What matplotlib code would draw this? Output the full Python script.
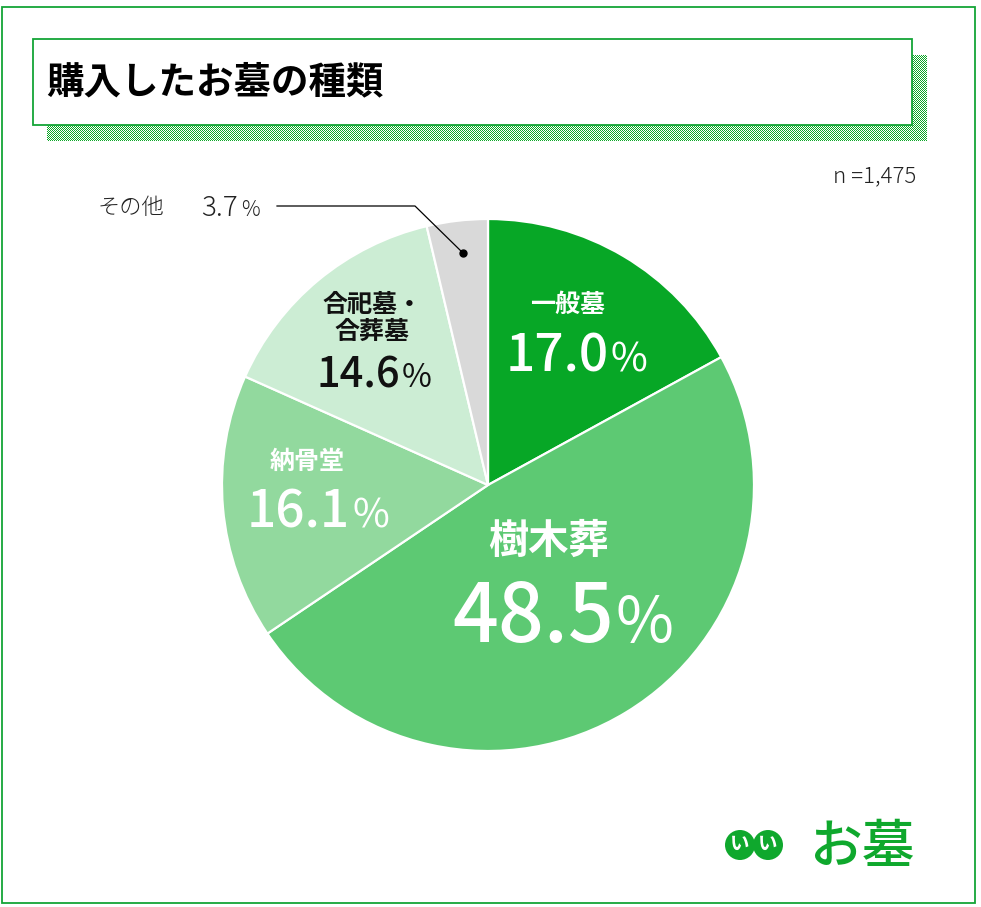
import numpy as np
import matplotlib
matplotlib.use("Agg")
import matplotlib.pyplot as plt
from matplotlib.patches import Rectangle, Circle

plt.rcParams['font.family'] = ['Noto Sans CJK JP', 'DejaVu Sans']

# data
categories = ['一般墓', '樹木葬', '納骨堂', '合祀墓・\n合葬墓', 'その他']
shares = [17.0, 48.5, 16.1, 14.6, 3.7]
colors = ['#07A726', '#5DC973', '#92D99E', '#CCEDD4', '#D9D9D9']
text_colors = ['white', 'white', 'white', '#111111', '#111111']
title = '購入したお墓の種類'
n_label = 'n =1,475'

W, H = 981, 907
fig = plt.figure(figsize=(W / 100, H / 100), dpi=100)

# pie first, underneath the pixel-coordinate overlay
cx, cy, r = 488, 485, 266
pie_ax = fig.add_axes([(cx - r) / W, (H - cy - r) / H, 2 * r / W, 2 * r / H])
pie_ax.pie(shares, colors=colors, startangle=90, counterclock=False,
           wedgeprops=dict(edgecolor='white', linewidth=1.6))
pie_ax.set_xlim(-1, 1)
pie_ax.set_ylim(-1, 1)
pie_ax.axis('off')
pie_ax.set_zorder(1)

# overlay axes in pixel coordinates (y down)
bg = fig.add_axes([0, 0, 1, 1])
bg.set_zorder(2)
bg.patch.set_visible(False)
bg.axis('off')

green = '#14A537'

# outer frame
bg.add_patch(Rectangle((2, 7), 973, 896, fill=False, edgecolor=green, lw=1.3, zorder=1))

# dotted shadow behind the title box
sh_w, sh_h = 880, 86
yy, xx = np.mgrid[0:sh_h, 0:sh_w]
dots = np.ones((sh_h, sh_w, 4))
on = ((xx + yy) % 2) == 0
dots[on] = [0.05, 0.66, 0.16, 1.0]
bg.imshow(dots, extent=(47, 47 + sh_w, 55 + sh_h, 55), interpolation='nearest', zorder=2, aspect='auto')
bg.set_xlim(0, W)
bg.set_ylim(H, 0)

# title box
bg.add_patch(Rectangle((33, 39), 879, 86, facecolor='white', edgecolor=green, lw=1.3, zorder=3))
bg.text(46, 82, title, fontsize=27, fontweight='bold', va='center', ha='left', zorder=4)

bg.text(916, 176, n_label, fontsize=16, fontweight='light', va='center', ha='right', color='#222222')

# inside labels: (name x, name y, name size, split x, baseline y, number size)
label_pos = [
    (568, 305, 18, 609, 371, 37),
    (549, 541, 29, 614, 642, 58),
    (307, 462, 18, 350, 528, 37),
    (372, 318, 18, 400, 387, 30),
]
for i, (nx, ny, ns, sx, by, num_size) in enumerate(label_pos):
    c = text_colors[i]
    bg.text(nx, ny, categories[i], fontsize=ns, fontweight='bold', color=c,
            ha='center', va='center', linespacing=1.15, zorder=5)
    bg.text(sx, by, f'{shares[i]:.1f}', fontsize=num_size, fontweight='medium', color=c,
            ha='right', va='baseline', zorder=5)
    bg.text(sx + 2, by, '%', fontsize=num_size * 0.78, color=c,
            ha='left', va='baseline', zorder=5)

# small slice label with leader line
bg.text(131, 208, categories[4], fontsize=16, fontweight='light', color='#222222', ha='center', va='center')
bg.text(238, 216, f'{shares[4]:.1f}', fontsize=20, fontweight='light', color='#222222', ha='right', va='baseline')
bg.text(241, 216, '%', fontsize=15, fontweight='light', color='#222222', ha='left', va='baseline')
bg.plot([277, 415, 463], [206, 206, 253], color='black', lw=0.9, zorder=5)
bg.plot([463], [253], 'o', color='black', ms=5, zorder=6)

# logo
for lx in (740, 768):
    bg.add_patch(Circle((lx, 845), 15, facecolor='#0FA82D', edgecolor='none', zorder=5))
    bg.text(lx, 844, 'い', fontsize=14, fontweight='bold', color='white',
            ha='center', va='center', zorder=6)
bg.text(862, 848, 'お墓', fontsize=38, fontweight='medium', color='#0FA82D',
        ha='center', va='center', zorder=6)

fig.savefig('out.png', dpi=100)
